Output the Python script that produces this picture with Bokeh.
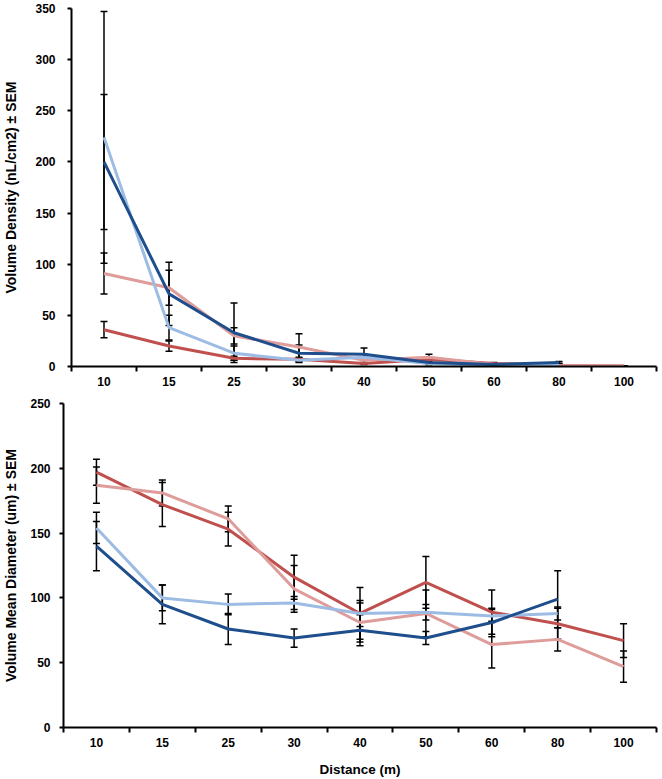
from bokeh.plotting import figure
from bokeh.models import ColumnDataSource, Whisker, TeeHead, FixedTicker, Range1d
from bokeh.layouts import column, row
from bokeh.embed import file_html
from bokeh.resources import INLINE

distances = ["10", "15", "25", "30", "40", "50", "60", "80", "100"]

# Top panel: Volume Density (nL/cm2)
vd_red = [36, 20, 8, 7, 3, 7, 3, 1, 0.5]
vd_red_err = [8, 5, 2, 2, 1, 2, 1, 0.5, 0.2]
vd_pink = [91, 77, 30, 19, 6, 9, 2, 1, 0.5]
vd_pink_err = [20, 17, 8, 13, 3, 3, 1, 0.5, 0.2]
vd_lblue = [224, 38, 13, 6, 9, 3, 1, 2]
vd_lblue_err = [123, 12, 7, 2, 3, 1, 0.5, 1]
vd_dblue = [200, 71, 33, 13, 12, 4, 2, 4]
vd_dblue_err = [66, 31, 29, 8, 6, 2, 1, 1]

# Bottom panel: Volume Mean Diameter (um)
md_red = [197, 172, 153, 116, 88, 112, 89, 80, 67]
md_red_err = [10, 17, 13, 17, 20, 20, 17, 12, 13]
md_pink = [187, 181, 161, 107, 81, 88, 64, 68, 47]
md_pink_err = [14, 10, 10, 18, 15, 18, 18, 9, 12]
md_lblue = [154, 100, 95, 96, 88, 89, 86, 88]
md_lblue_err = [12, 10, 8, 5, 10, 6, 5, 5]
md_dblue = [140, 95, 76, 69, 75, 69, 81, 99]
md_dblue_err = [19, 15, 12, 7, 12, 5, 11, 22]

C_RED = "#C0504D"
C_PINK = "#DE9C9B"
C_LBLUE = "#9DBCE3"
C_DBLUE = "#1F4E8C"

FONT = "Liberation Sans"


def build(series, ymax, ystep, ylabel, xlabel, height, top, bottom, left,
          tick_standoff, label_standoff):
    p = figure(width=662, height=height, output_backend="svg", toolbar_location=None,
               x_range=Range1d(-0.5, len(distances) - 0.5), y_range=Range1d(0, ymax),
               min_border_left=left, min_border_right=6, min_border_top=top,
               min_border_bottom=bottom)
    p.outline_line_color = None
    p.xgrid.visible = False
    p.ygrid.visible = False
    p.background_fill_color = "white"

    for vals, errs, color in series:
        xs = list(range(len(vals)))
        src = ColumnDataSource(dict(x=xs, y=vals))
        p.line("x", "y", source=src, line_color=color, line_width=3)
    for vals, errs, color in series:
        xs = list(range(len(vals)))
        src = ColumnDataSource(dict(x=xs, y=vals,
                                    lo=[v - e for v, e in zip(vals, errs)],
                                    hi=[v + e for v, e in zip(vals, errs)]))
        w = Whisker(base="x", lower="lo", upper="hi", source=src, dimension="height",
                    line_color="black", line_width=1.5,
                    upper_head=TeeHead(size=7, line_color="black", line_width=1.5),
                    lower_head=TeeHead(size=7, line_color="black", line_width=1.5))
        p.add_layout(w)

    xa = p.xaxis[0]
    xa.ticker = FixedTicker(ticks=list(range(len(distances))),
                            minor_ticks=[k - 0.5 for k in range(len(distances) + 1)])
    xa.major_label_overrides = {i: d for i, d in enumerate(distances)}
    xa.major_tick_out = 0
    xa.major_tick_in = 0
    xa.minor_tick_out = 5
    xa.minor_tick_in = 0
    xa.minor_tick_line_color = "black"
    xa.minor_tick_line_width = 2
    xa.axis_line_width = 2
    xa.axis_line_color = "black"
    xa.major_label_text_font = FONT
    xa.major_label_text_font_style = "bold"
    xa.major_label_text_font_size = "12px"
    xa.major_label_text_color = "black"
    xa.major_label_standoff = 5
    if xlabel:
        xa.axis_label = xlabel
        xa.axis_label_text_font = FONT
        xa.axis_label_text_font_style = "bold"
        xa.axis_label_text_font_size = "13.5px"
        xa.axis_label_text_color = "black"
        xa.axis_label_standoff = 12

    ya = p.yaxis[0]
    ya.ticker = FixedTicker(ticks=list(range(0, ymax + 1, ystep)))
    ya.major_tick_out = 4
    ya.major_tick_in = 0
    ya.minor_tick_out = 0
    ya.minor_tick_in = 0
    ya.major_tick_line_width = 2
    ya.axis_line_width = 2
    ya.axis_line_color = "black"
    ya.major_label_text_font = FONT
    ya.major_label_text_font_style = "bold"
    ya.major_label_text_font_size = "12px"
    ya.major_label_text_color = "black"
    ya.major_label_standoff = tick_standoff
    ya.axis_label = ylabel
    ya.axis_label_text_font = FONT
    ya.axis_label_text_font_style = "bold"
    ya.axis_label_text_font_size = "14px"
    ya.axis_label_text_color = "black"
    ya.axis_label_standoff = label_standoff
    return p


top = build([(vd_red, vd_red_err, C_RED), (vd_pink, vd_pink_err, C_PINK),
             (vd_lblue, vd_lblue_err, C_LBLUE), (vd_dblue, vd_dblue_err, C_DBLUE)],
            350, 50, "Volume Density (nL/cm2) \u00b1 SEM", None, 394, 8, 28, 69, 12, 13)
bot = build([(md_red, md_red_err, C_RED), (md_pink, md_pink_err, C_PINK),
             (md_lblue, md_lblue_err, C_LBLUE), (md_dblue, md_dblue_err, C_DBLUE)],
            250, 50, "Volume Mean Diameter (um) \u00b1 SEM", "Distance (m)", 385, 9, 51, 62,
            9, 8)

layout = column(row(top), row(bot), spacing=0)
open("out.html", "w").write(file_html(layout, INLINE))
